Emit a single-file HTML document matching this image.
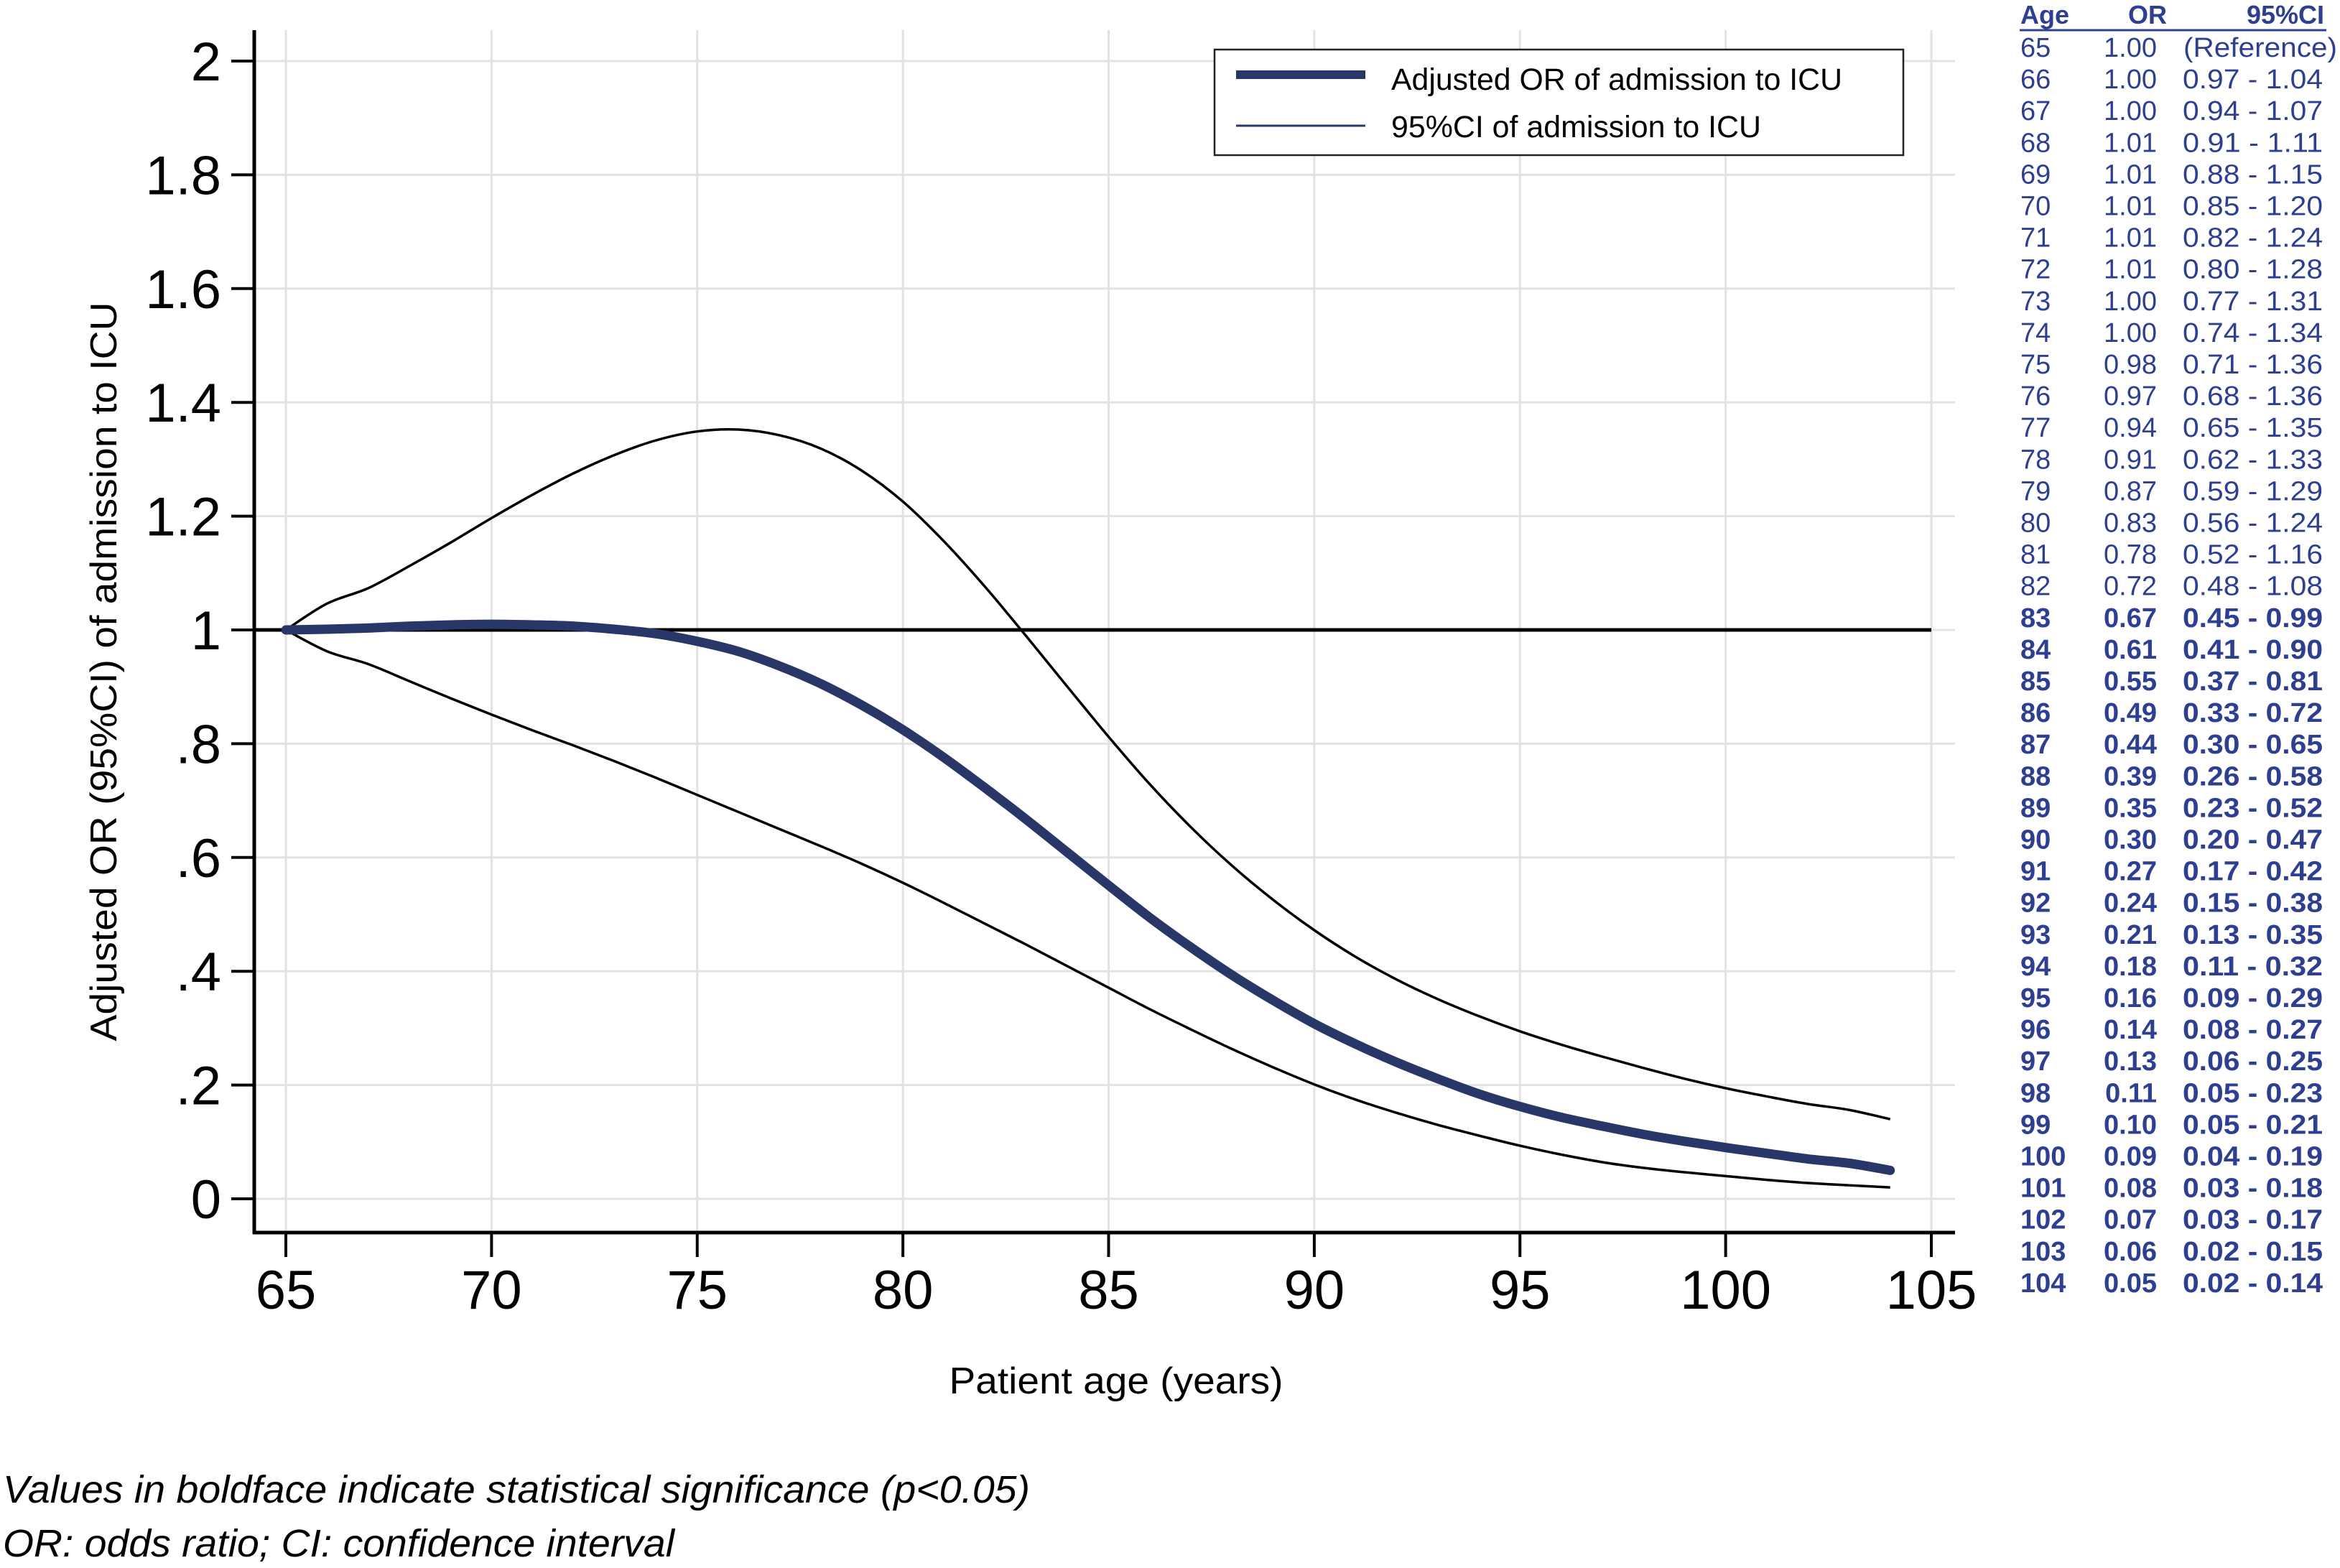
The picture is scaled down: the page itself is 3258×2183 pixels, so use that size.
<!DOCTYPE html>
<html><head><meta charset="utf-8">
<style>
html,body{margin:0;padding:0;background:#fff;}
svg{display:block;}
</style></head>
<body>
<svg id="chart" width="3258" height="2183" viewBox="0 0 3258 2183" xmlns="http://www.w3.org/2000/svg" font-family="'Liberation Sans', sans-serif">
<g id="grid"></g>
<g id="axes"></g>
<g id="series"></g>
<g id="legend">
  <rect x="1691" y="69" width="959" height="147" fill="#fff" stroke="#222" stroke-width="2.5"/>
  <line x1="1721" y1="104" x2="1901" y2="104" stroke="#283768" stroke-width="12"/>
  <text x="1937" y="125" font-size="43" fill="#000" textLength="628" lengthAdjust="spacingAndGlyphs">Adjusted OR of admission to ICU</text>
  <line x1="1721" y1="175" x2="1901" y2="175" stroke="#283768" stroke-width="3"/>
  <text x="1937" y="191" font-size="43" fill="#000" textLength="515" lengthAdjust="spacingAndGlyphs">95%CI of admission to ICU</text>
</g>
<text transform="translate(162,935) rotate(-90)" text-anchor="middle" font-size="52" textLength="1029" lengthAdjust="spacingAndGlyphs">Adjusted OR (95%CI) of admission to ICU</text>
<text x="1554" y="1940" text-anchor="middle" font-size="52" textLength="465" lengthAdjust="spacingAndGlyphs">Patient age (years)</text>
<text x="4" y="2092" font-size="54" font-style="italic" textLength="1430" lengthAdjust="spacingAndGlyphs">Values in boldface indicate statistical significance (p&lt;0.05)</text>
<text x="4" y="2167" font-size="54" font-style="italic" textLength="935" lengthAdjust="spacingAndGlyphs">OR: odds ratio; CI: confidence interval</text>
<g id="table" fill="#2e3f91" font-size="38"></g>
</svg>
<script>
const ages = [65,66,67,68,69,70,71,72,73,74,75,76,77,78,79,80,81,82,83,84,85,86,87,88,89,90,91,92,93,94,95,96,97,98,99,100,101,102,103,104];
const orVals = [1.00,1.00,1.00,1.01,1.01,1.01,1.01,1.01,1.00,1.00,0.98,0.97,0.94,0.91,0.87,0.83,0.78,0.72,0.67,0.61,0.55,0.49,0.44,0.39,0.35,0.30,0.27,0.24,0.21,0.18,0.16,0.14,0.13,0.11,0.10,0.09,0.08,0.07,0.06,0.05];
const lowerVals = [1.00,0.97,0.94,0.91,0.88,0.85,0.82,0.80,0.77,0.74,0.71,0.68,0.65,0.62,0.59,0.56,0.52,0.48,0.45,0.41,0.37,0.33,0.30,0.26,0.23,0.20,0.17,0.15,0.13,0.11,0.09,0.08,0.06,0.05,0.05,0.04,0.03,0.03,0.02,0.02];
const upperVals = [1.00,1.04,1.07,1.11,1.15,1.20,1.24,1.28,1.31,1.34,1.36,1.36,1.35,1.33,1.29,1.24,1.16,1.08,0.99,0.90,0.81,0.72,0.65,0.58,0.52,0.47,0.42,0.38,0.35,0.32,0.29,0.27,0.25,0.23,0.21,0.19,0.18,0.17,0.15,0.14];
const sigFrom = 83;
const xTicks = [65,70,75,80,85,90,95,100,105];
const yTicks = [0,0.2,0.4,0.6,0.8,1,1.2,1.4,1.6,1.8,2];
const yTickLabels = ["0",".2",".4",".6",".8","1","1.2","1.4","1.6","1.8","2"];

const NS = "http://www.w3.org/2000/svg";
const X = v => 398 + (v - 65) * (2689 - 398) / 40;
const Y = v => 1669 - v * 792;
function mk(parent, tag, attrs, text) {
  const el = document.createElementNS(NS, tag);
  for (const k in attrs) el.setAttribute(k, attrs[k]);
  if (text !== undefined) el.textContent = text;
  parent.appendChild(el);
  return el;
}
const grid = document.getElementById('grid');
const axes = document.getElementById('axes');
const series = document.getElementById('series');
const table = document.getElementById('table');

xTicks.forEach(t => {
  const g = mk(grid, 'line', {x1: X(t), x2: X(t), y1: 42, y2: 1716, stroke: '#e2e2e2', 'stroke-width': 3});
  
  
  const tk = mk(axes, 'line', {x1: X(t), x2: X(t), y1: 1716, y2: 1750, stroke: '#000', 'stroke-width': 4});
  
  
  const lb = mk(axes, 'text', {x: X(t), y: 1822, 'text-anchor': 'middle', 'font-size': 76}, String(t));
  
  
});
yTicks.forEach((t, i) => {
  const g = mk(grid, 'line', {x1: 354, x2: 2722, y1: Y(t), y2: Y(t), stroke: '#e2e2e2', 'stroke-width': 3});
  
  
  const tk = mk(axes, 'line', {x1: 322, x2: 354, y1: Y(t), y2: Y(t), stroke: '#000', 'stroke-width': 4});
  
  
  const lb = mk(axes, 'text', {x: 308, y: Y(t) + 27, 'text-anchor': 'end', 'font-size': 76}, yTickLabels[i]);
  
  
});
const ya = mk(axes, 'line', {x1: 354, x2: 354, y1: 42, y2: 1718, stroke: '#000', 'stroke-width': 5});


const xa = mk(axes, 'line', {x1: 352, x2: 2722, y1: 1716, y2: 1716, stroke: '#000', 'stroke-width': 5});



// light smoothing of rounded table values for display
function smooth(vals) {
  const w = [1, 2, 3, 2, 1];
  return vals.map((v, i) => {
    if (i === 0 || i === vals.length - 1) return v;
    let s = 0, ws = 0;
    for (let k = -2; k <= 2; k++) {
      const j = i + k;
      if (j < 0 || j >= vals.length) continue;
      s += vals[j] * w[k + 2]; ws += w[k + 2];
    }
    return s / ws;
  });
}
function smoothPath(xs, ys) {
  const sy = smooth(ys);
  const p = xs.map((x, i) => [X(x), Y(sy[i])]);
  let d = 'M' + p[0][0] + ',' + p[0][1];
  for (let i = 0; i < p.length - 1; i++) {
    const p0 = p[i - 1] || p[i], p1 = p[i], p2 = p[i + 1], p3 = p[i + 2] || p2;
    const c1 = [p1[0] + (p2[0] - p0[0]) / 6, p1[1] + (p2[1] - p0[1]) / 6];
    const c2 = [p2[0] - (p3[0] - p1[0]) / 6, p2[1] - (p3[1] - p1[1]) / 6];
    d += ' C' + c1[0] + ',' + c1[1] + ' ' + c2[0] + ',' + c2[1] + ' ' + p2[0] + ',' + p2[1];
  }
  return d;
}
const ref = mk(series, 'line', {x1: 354, x2: X(105), y1: Y(1), y2: Y(1), stroke: '#000', 'stroke-width': 5});


const up = mk(series, 'path', {d: smoothPath(ages, upperVals), fill: 'none', stroke: '#000', 'stroke-width': 3.5});


const lo = mk(series, 'path', {d: smoothPath(ages, lowerVals), fill: 'none', stroke: '#000', 'stroke-width': 3.5});


const orl = mk(series, 'path', {d: smoothPath(ages, orVals), fill: 'none', stroke: '#283768', 'stroke-width': 13, 'stroke-linecap': 'round'});



// table
const h1 = mk(table, 'text', {x: 2813, y: 33, 'font-weight': 'bold', 'font-size': 36}, 'Age');


const h2 = mk(table, 'text', {x: 2990, y: 33, 'font-weight': 'bold', 'font-size': 36, 'text-anchor': 'middle'}, 'OR');


const h3 = mk(table, 'text', {x: 3236, y: 33, 'font-weight': 'bold', 'font-size': 36, 'text-anchor': 'end'}, '95%CI');


const ul = mk(table, 'line', {x1: 2812, x2: 3239, y1: 42, y2: 42, stroke: '#2e3f91', 'stroke-width': 3});


ages.forEach((a, i) => {
  const y = 65 + i * 44.1 + 14;
  const bold = a >= sigFrom ? 'bold' : 'normal';
  const r = mk(table, 'g', {'font-weight': bold});
  
  
  mk(r, 'text', {x: 2813, y: y}, String(a));
  mk(r, 'text', {x: 3003, y: y, 'text-anchor': 'end'}, orVals[i].toFixed(2));
  const ci = i === 0 ? '(Reference)' : lowerVals[i].toFixed(2) + ' - ' + upperVals[i].toFixed(2);
  mk(r, 'text', {x: i === 0 ? 3254 : 3234, y: y, 'text-anchor': 'end', textLength: i === 0 ? 214 : 195, lengthAdjust: 'spacingAndGlyphs'}, ci);
});
</script>
</body></html>
